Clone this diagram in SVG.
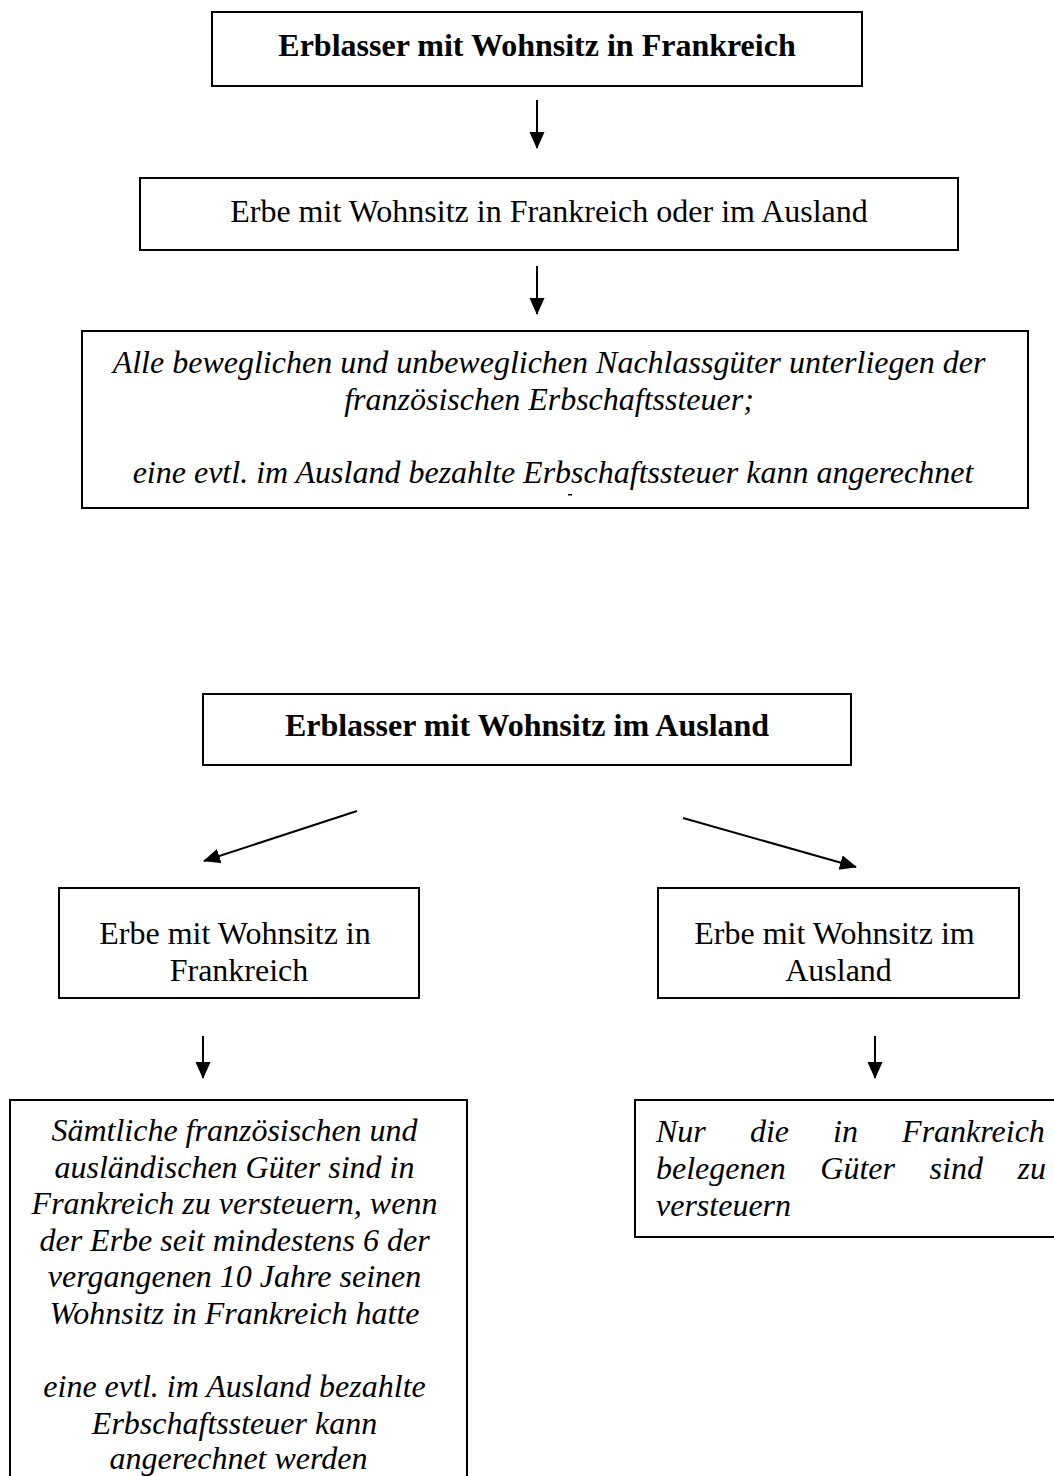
<svg xmlns="http://www.w3.org/2000/svg" width="1054" height="1476" viewBox="0 0 1054 1476">
<style>
.box{fill:#fff;stroke:#000;stroke-width:2}
.t{font-family:"Liberation Serif","Times New Roman",serif;font-size:32px;fill:#000}
.b{font-weight:bold}
.i{font-style:italic}
.c{text-anchor:middle}
.con{stroke:#000;stroke-width:2;fill:none;marker-end:url(#ah)}
</style>
<defs>
<marker id="ah" markerUnits="userSpaceOnUse" markerWidth="20" markerHeight="18" refX="16" refY="7.5" orient="auto">
<path d="M0,0 L17,7.5 L0,15 z" fill="#000"/>
</marker>
</defs>
<rect width="1054" height="1476" fill="#fff"/>
<g id="connectors">
<line class="con" x1="537" y1="100" x2="537" y2="148"/>
<line class="con" x1="537" y1="266" x2="537" y2="314"/>
<line class="con" x1="357" y1="811" x2="204" y2="861"/>
<line class="con" x1="683" y1="818" x2="856" y2="867"/>
<line class="con" x1="203" y1="1036" x2="203" y2="1078"/>
<line class="con" x1="875" y1="1036" x2="875" y2="1078"/>
</g>
<g id="n1">
<rect class="box" x="212" y="12" width="650" height="74"/>
<text class="t b c" x="537" y="56">Erblasser mit Wohnsitz in Frankreich</text>
</g>
<g id="n2">
<rect class="box" x="140" y="178" width="818" height="72"/>
<text class="t c" x="549" y="222">Erbe mit Wohnsitz in Frankreich oder im Ausland</text>
</g>
<g id="n3">
<rect class="box" x="82" y="331" width="946" height="177"/>
<text class="t i c" x="553">
<tspan x="553" y="373">Alle beweglichen und unbeweglichen Nachlassgüter unterliegen der</tspan>
<tspan x="553" y="409.8">französischen Erbschaftssteuer;</tspan>
<tspan x="553" y="483.4">eine evtl. im Ausland bezahlte Erbschaftssteuer kann angerechnet</tspan>
</text>
<rect x="568" y="494" width="4" height="1.5" fill="#000"/>
</g>
<g id="n4">
<rect class="box" x="203" y="694" width="648" height="71"/>
<text class="t b c" x="527" y="736">Erblasser mit Wohnsitz im Ausland</text>
</g>
<g id="n5">
<rect class="box" x="59" y="888" width="360" height="110"/>
<text class="t c">
<tspan x="239" y="944">Erbe mit Wohnsitz in</tspan>
<tspan x="239" y="980.8">Frankreich</tspan>
</text>
</g>
<g id="n6">
<rect class="box" x="658" y="888" width="361" height="110"/>
<text class="t c">
<tspan x="838.5" y="944">Erbe mit Wohnsitz im</tspan>
<tspan x="838.5" y="980.8">Ausland</tspan>
</text>
</g>
<g id="n7">
<rect class="box" x="10" y="1100" width="457" height="400"/>
<text class="t i c">
<tspan x="238.5" y="1141">Sämtliche französischen und</tspan>
<tspan x="238.5" y="1177.6">ausländischen Güter sind in</tspan>
<tspan x="238.5" y="1214.2">Frankreich zu versteuern, wenn</tspan>
<tspan x="238.5" y="1250.8">der Erbe seit mindestens 6 der</tspan>
<tspan x="238.5" y="1287.4">vergangenen 10 Jahre seinen</tspan>
<tspan x="238.5" y="1324">Wohnsitz in Frankreich hatte</tspan>
<tspan x="238.5" y="1397.2">eine evtl. im Ausland bezahlte</tspan>
<tspan x="238.5" y="1433.8">Erbschaftssteuer kann</tspan>
<tspan x="238.5" y="1469.4">angerechnet werden</tspan>
</text>
</g>
<g id="n8">
<rect class="box" x="635" y="1100" width="440" height="137"/>
<text class="t i">
<tspan x="656" y="1142">Nur</tspan><tspan x="749.9" y="1142">die</tspan><tspan x="833.1" y="1142">in</tspan><tspan x="902.1" y="1142">Frankreich</tspan>
<tspan x="656" y="1178.8">belegenen</tspan><tspan x="820.3" y="1178.8">Güter</tspan><tspan x="929.6" y="1178.8">sind</tspan><tspan x="1017.5" y="1178.8">zu</tspan>
<tspan x="656" y="1215.6">versteuern</tspan>
</text>
</g>
</svg>
